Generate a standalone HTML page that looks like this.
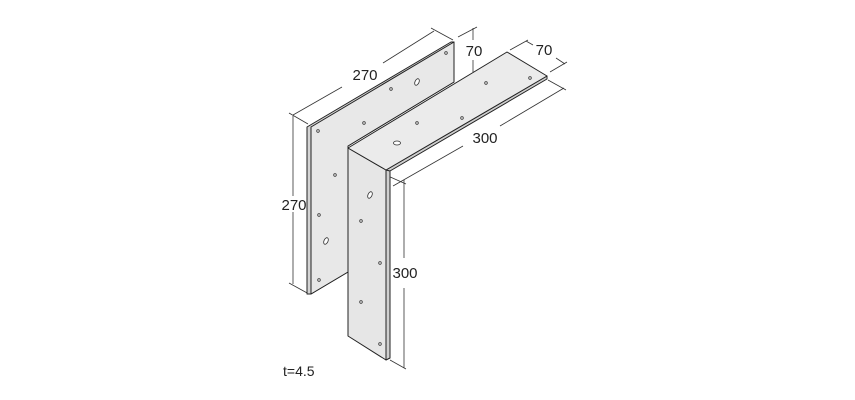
<!DOCTYPE html>
<html><head><style>body{margin:0;background:#fff}svg{display:block}</style></head><body>
<svg width="855" height="400" viewBox="0 0 855 400" xmlns="http://www.w3.org/2000/svg" font-family="Liberation Sans, sans-serif">
<g stroke="#333" stroke-width="0.8" fill="none">
<!-- dimension lines -->
<line x1="293" y1="116" x2="293" y2="196"/><line x1="293" y1="212" x2="293" y2="284"/>
<line x1="289" y1="113" x2="308" y2="124"/><line x1="289" y1="283" x2="309" y2="294"/>
<line x1="293" y1="115" x2="342" y2="87"/><line x1="383" y1="63" x2="434" y2="31"/>
<line x1="431" y1="28" x2="453" y2="40"/>
<line x1="473" y1="28" x2="473" y2="40"/><line x1="473" y1="60" x2="473" y2="72"/>
<line x1="458" y1="37" x2="477" y2="27"/>
<line x1="510" y1="50" x2="528" y2="40"/><line x1="550" y1="72" x2="567" y2="62"/>
<line x1="526" y1="41" x2="533" y2="45"/><line x1="556" y1="58" x2="565" y2="64"/>
<line x1="548" y1="80" x2="566" y2="90"/><line x1="564" y1="88" x2="500" y2="126"/><line x1="463" y1="146" x2="393" y2="186"/>
<line x1="388" y1="176" x2="406" y2="184"/><line x1="404" y1="180" x2="404" y2="258"/><line x1="404" y1="288" x2="404" y2="368"/>
<line x1="390" y1="360" x2="406" y2="369"/>
</g>
<g stroke="#222" stroke-width="1" stroke-linejoin="round">
<!-- back plate -->
<polygon points="307,127 451,42 454,42 454,82 348,146 348,272 311,294 307,294" fill="#d4d4d4"/>
<polygon points="311,127 454,42 454,82 348,146 348,272 311,294" fill="#e8e8e8"/>
<!-- front hanging plate -->
<polygon points="386,170 390,168 390,358 386,360" fill="#cfcfcf"/>
<polygon points="348,148 386,170 386,360 348,336" fill="#e6e6e6"/>
<!-- top plate -->
<polygon points="386,170 547,76 547,79 390,171" fill="#cfcfcf"/>
<polygon points="507,52 547,76 386,170 348,148" fill="#ebebeb"/>
</g>
<g fill="#fff" stroke="#333" stroke-width="0.8">
<circle cx="318" cy="131" r="1.3"/><circle cx="364" cy="123" r="1.3"/><circle cx="391" cy="89" r="1.3"/><circle cx="446" cy="53" r="1.3"/>
<circle cx="335" cy="175" r="1.3"/><circle cx="319" cy="215" r="1.3"/><circle cx="319" cy="280" r="1.3"/>
<ellipse cx="417" cy="82" rx="2" ry="3.5" transform="rotate(25 417 82)"/>
<ellipse cx="326" cy="241" rx="2" ry="3.5" transform="rotate(25 326 241)"/>
<circle cx="417" cy="123" r="1.3"/><circle cx="462" cy="118" r="1.3"/><circle cx="486" cy="83" r="1.3"/><circle cx="530" cy="78" r="1.3"/>
<ellipse cx="397" cy="143" rx="3.5" ry="2"/>
<ellipse cx="370" cy="195" rx="2" ry="3.5" transform="rotate(25 370 195)"/>
<circle cx="361" cy="221" r="1.3"/><circle cx="380" cy="263" r="1.3"/><circle cx="361" cy="302" r="1.3"/><circle cx="380" cy="344" r="1.3"/>
</g>
<g fill="#222" font-size="15">
<text x="365" y="80" text-anchor="middle">270</text>
<text x="294" y="210" text-anchor="middle">270</text>
<text x="474" y="56" text-anchor="middle">70</text>
<text x="544" y="55" text-anchor="middle">70</text>
<text x="485" y="143" text-anchor="middle">300</text>
<text x="405" y="278" text-anchor="middle">300</text>
<text x="283" y="376" font-size="14">t=4.5</text>
</g>
</svg>
</body></html>
